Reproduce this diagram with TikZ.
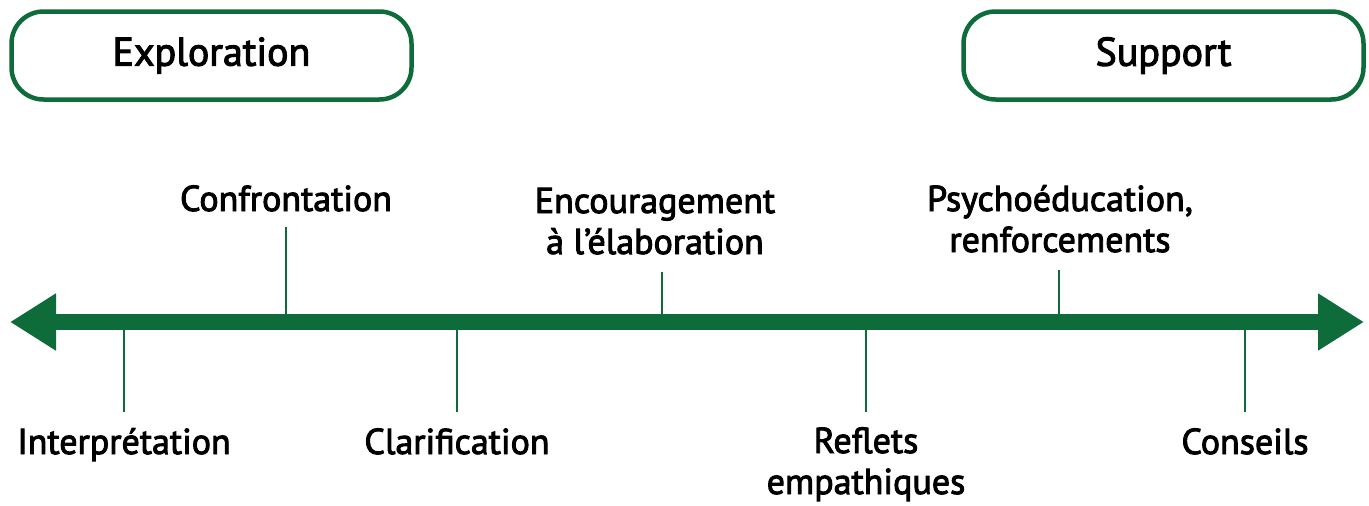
\documentclass[tikz,border=0pt]{standalone}
\usepackage{fontspec}
\setmainfont{PT Sans}[FakeBold=2.6]
\usepackage{tikz}
\usetikzlibrary{positioning,arrows.meta}
\definecolor{axegreen}{HTML}{0E6B3A}

\begin{document}
\begin{tikzpicture}[x=1pt,y=-1pt,
	phase/.style={draw=axegreen,line width=4.5pt,rounded corners=32pt,
		minimum width=400pt,minimum height=88pt,font=\fontsize{40}{44}\selectfont},
	lbl/.style={align=center,inner sep=0pt,font=\fontsize{36}{41}\selectfont},
	tick/.style={draw=axegreen,line width=2.5pt}]
	\useasboundingbox (0,0) rectangle (1369,506);
	% les deux poles
	\node(explo) [phase] at (211.5,55.5) {Exploration};
	\node(supp) [phase] at (1163.5,55.5) {Support};
	% l'axe
	\coordinate(gauche) at (10,322);
	\coordinate(droite) at (1364,322);
	\draw [axegreen,line width=16pt,{Triangle[width=54pt,length=46pt]}-{Triangle[width=54pt,length=46pt]}] (gauche) -- (droite);
	% au-dessus de l'axe
	\node(confr) [lbl,anchor=base] at (286,211) {Confrontation};
	\node(encour) [lbl,anchor=base] at (655,254) {Encouragement\\à l’élaboration};
	\node(psycho) [lbl,anchor=base] at (1060,252) {Psychoéducation,\\renforcements};
	\coordinate(c1) at (286,227);
	\coordinate(c2) at (662,272);
	\coordinate(c3) at (1059,270);
	\coordinate(a1) at (286,322);
	\coordinate(a2) at (662,322);
	\coordinate(a3) at (1059,322);
	\draw [tick] (c1) -- (a1);
	\draw [tick] (c2) -- (a2);
	\draw [tick] (c3) -- (a3);
	% au-dessous de l'axe
	\node(interp) [lbl,anchor=base] at (124,454) {Interprétation};
	\node(clarif) [lbl,anchor=base] at (457,454) {Clarification};
	\node(reflets) [lbl,anchor=base] at (866,494) {Reflets\\empathiques};
	\node(conseils) [lbl,anchor=base] at (1245,454) {Conseils};
	\coordinate(b1) at (124,412);
	\coordinate(b2) at (457,412);
	\coordinate(b3) at (866,412);
	\coordinate(b4) at (1245,412);
	\coordinate(d1) at (124,322);
	\coordinate(d2) at (457,322);
	\coordinate(d3) at (866,322);
	\coordinate(d4) at (1245,322);
	\draw [tick] (d1) -- (b1);
	\draw [tick] (d2) -- (b2);
	\draw [tick] (d3) -- (b3);
	\draw [tick] (d4) -- (b4);
\end{tikzpicture}
\end{document}
